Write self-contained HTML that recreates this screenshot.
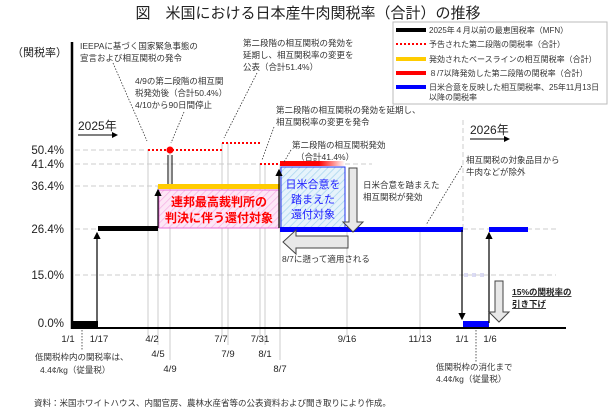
<!DOCTYPE html>
<html><head><meta charset="utf-8"><style>
body{margin:0;background:#fff;}
svg{display:block;font-family:"Liberation Sans","Noto Sans CJK JP",sans-serif;}
</style></head><body>
<svg width="615" height="418" viewBox="0 0 615 418" xmlns="http://www.w3.org/2000/svg">
<defs>
<pattern id="hp" width="5" height="5" patternUnits="userSpaceOnUse" patternTransform="rotate(45)"><rect width="5" height="5" fill="#fde6f6"/><line x1="0" y1="0" x2="0" y2="5" stroke="#f6b3e4" stroke-width="1.5"/></pattern>
<pattern id="hb" width="5" height="5" patternUnits="userSpaceOnUse" patternTransform="rotate(45)"><rect width="5" height="5" fill="#e6f3fb"/><line x1="0" y1="0" x2="0" y2="5" stroke="#a9d5ef" stroke-width="1.5"/></pattern>
<linearGradient id="rg" x1="0" x2="1"><stop offset="0.6" stop-color="#f00"/><stop offset="1" stop-color="#f00" stop-opacity="0"/></linearGradient>
<marker id="ah" markerWidth="6" markerHeight="6" refX="5" refY="3" orient="auto"><path d="M0,0L6,3L0,6z" fill="#000"/></marker>
</defs>
<text x="308" y="18" font-size="15" text-anchor="middle" fill="#222">図　米国における日本産牛肉関税率（合計）の推移</text>
<g stroke="#ccc" stroke-dasharray="5,3" stroke-width="1">
<line x1="75" y1="150" x2="148" y2="150"/><line x1="75" y1="164" x2="260" y2="164"/>
<line x1="345" y1="164" x2="372" y2="164"/>
<line x1="75" y1="186" x2="158" y2="186"/><line x1="75" y1="229" x2="98" y2="229"/>
<line x1="463" y1="229" x2="556" y2="229"/><line x1="75" y1="275" x2="556" y2="275"/>
<line x1="463" y1="120" x2="463" y2="229"/>
</g>
<g stroke="#ccc" stroke-width="1">
<line x1="148" y1="150" x2="148" y2="336"/><line x1="158" y1="186" x2="158" y2="345"/>
<line x1="170" y1="150" x2="170" y2="360"/><line x1="222" y1="143" x2="222" y2="336"/>
<line x1="228" y1="143" x2="228" y2="345"/><line x1="260" y1="164" x2="260" y2="336"/>
<line x1="265" y1="164" x2="265" y2="345"/><line x1="280" y1="164" x2="280" y2="360"/>
<line x1="347" y1="229" x2="347" y2="336"/><line x1="420" y1="229" x2="420" y2="336"/>
</g>
<line x1="72" y1="42" x2="72" y2="329" stroke="#000" stroke-width="2.5"/>
<line x1="72" y1="328" x2="566" y2="328" stroke="#000" stroke-width="2"/>
<g font-size="11.5" fill="#222" text-anchor="end">
<text x="64" y="154">50.4%</text><text x="64" y="168">41.4%</text><text x="64" y="190">36.4%</text>
<text x="64" y="233">26.4%</text><text x="64" y="279">15.0%</text><text x="64" y="327">0.0%</text>
</g>
<text x="12" y="56" font-size="11" fill="#222">（関税率）</text>
<rect x="159" y="190" width="120" height="38" fill="url(#hp)" stroke="#e870d8" stroke-width="1"/>
<text x="219" y="206" font-size="12" font-weight="bold" fill="#f00" text-anchor="middle">連邦最高裁判所の</text>
<text x="219" y="222" font-size="12" font-weight="bold" fill="#f00" text-anchor="middle">判決に伴う還付対象</text>
<rect x="281" y="167" width="64" height="62" fill="url(#hb)" stroke="#2233ee" stroke-width="1"/>
<text x="313" y="188" font-size="11" fill="#22f" text-anchor="middle">日米合意を</text>
<text x="313" y="203" font-size="11" fill="#22f" text-anchor="middle">踏まえた</text>
<text x="313" y="218" font-size="11" fill="#22f" text-anchor="middle">還付対象</text>
<rect x="72" y="321" width="26" height="6" fill="#000"/>
<line x1="97" y1="321" x2="97" y2="233" stroke="#000" stroke-width="1.2" marker-end="url(#ah)"/>
<rect x="98" y="226" width="60" height="5" fill="#000"/>
<line x1="158" y1="228" x2="158" y2="190" stroke="#000" stroke-width="1.2" marker-end="url(#ah)"/>
<rect x="158" y="184" width="122" height="5" fill="#fc0"/>
<g stroke="#f00" stroke-width="2" stroke-dasharray="2,2">
<line x1="148" y1="150" x2="222" y2="150"/><line x1="222" y1="143" x2="260" y2="143"/><line x1="260" y1="164" x2="280" y2="164"/>
</g>
<circle cx="170" cy="150" r="3.5" fill="#f00"/>
<line x1="168" y1="155" x2="168" y2="184" stroke="#000" stroke-width="1"/>
<line x1="172" y1="155" x2="172" y2="184" stroke="#000" stroke-width="1"/>
<line x1="279" y1="228" x2="279" y2="170" stroke="#000" stroke-width="1.2" marker-end="url(#ah)"/>
<rect x="280" y="161" width="65" height="5" fill="url(#rg)"/>
<rect x="280" y="227" width="183" height="5" fill="#00f"/>
<line x1="462" y1="230" x2="462" y2="319" stroke="#000" stroke-width="1.2" marker-end="url(#ah)"/>
<rect x="463" y="321" width="26" height="6" fill="#00f"/>
<line x1="489" y1="323" x2="489" y2="233" stroke="#000" stroke-width="1.2" marker-end="url(#ah)"/>
<rect x="489" y="227" width="39" height="5" fill="#00f"/>
<g fill="#cce" opacity="0.7"><rect x="464" y="273" width="4" height="4"/><rect x="472" y="273" width="4" height="4"/><rect x="480" y="273" width="4" height="4"/></g>
<path d="M349,168 H357 V222 H363 L353,232 L343,222 H349 Z" fill="#e8e8e8" stroke="#444" stroke-width="1"/>
<path d="M348,236 V248 H296 V254 L283,242 L296,230 V236 Z" fill="#e8e8e8" stroke="#444" stroke-width="1"/>
<path d="M495,281 H503 V312 H509 L499,322 L489,312 H495 Z" fill="#e8e8e8" stroke="#444" stroke-width="1"/>
<g font-size="8.5" fill="#333">
<text x="80" y="49">IEEPAに基づく国家緊急事態の</text>
<text x="80" y="61">宣言および相互関税の発令</text>
<text x="135" y="84">4/9の第二段階の相互関</text>
<text x="135" y="96">税発効後（合計50.4%）</text>
<text x="135" y="108">4/10から90日間停止</text>
<text x="243" y="46">第二段階の相互関税の発効を</text>
<text x="243" y="58">延期し、相互関税率の変更を</text>
<text x="243" y="70">公表（合計51.4%）</text>
<text x="276" y="113">第二段階の相互関税の発効を延期し、</text>
<text x="276" y="125">相互関税率の変更を発令</text>
<text x="292" y="148">第二段階の相互関税発効</text>
<text x="296" y="160">（合計41.4%）</text>
<text x="363" y="188">日米合意を踏まえた</text>
<text x="363" y="200">相互関税が発効</text>
<text x="282" y="262">8/7に遡って適用される</text>
<text x="466" y="163">相互関税の対象品目から</text>
<text x="466" y="175">牛肉などが除外</text>
<text x="35" y="360">低関税枠内の関税率は、</text>
<text x="40" y="373">4.4¢/kg（従量税）</text>
<text x="436" y="370">低関税枠の消化まで</text>
<text x="436" y="382">4.4¢/kg（従量税）</text>
</g>
<g stroke="#333" stroke-width="0.8" stroke-dasharray="1.5,1.5" fill="none">
<line x1="113" y1="63" x2="147" y2="141"/><line x1="184" y1="112" x2="171" y2="143"/>
<line x1="257" y1="73" x2="224" y2="138"/><line x1="274" y1="127" x2="262" y2="160"/>
<line x1="291" y1="150" x2="284" y2="162"/><line x1="462" y1="166" x2="426" y2="225"/>
<line x1="82" y1="330" x2="82" y2="350"/><line x1="476" y1="330" x2="476" y2="362"/>
</g>
<g font-size="12" fill="#222"><text x="78" y="130">2025年</text><text x="470" y="134">2026年</text></g>
<line x1="78" y1="135" x2="117" y2="135" stroke="#000" stroke-width="1" marker-end="url(#ah)"/>
<line x1="470" y1="139" x2="509" y2="139" stroke="#000" stroke-width="1" marker-end="url(#ah)"/>
<text x="512" y="295" font-size="8.5" font-weight="bold" fill="#222" text-decoration="underline">15%の関税率の</text>
<text x="512" y="307" font-size="8.5" font-weight="bold" fill="#222" text-decoration="underline">引き下げ</text>
<g font-size="9.5" fill="#222" text-anchor="middle">
<text x="68" y="342">1/1</text><text x="99" y="342">1/17</text><text x="152" y="342">4/2</text>
<text x="158" y="357">4/5</text><text x="170" y="372">4/9</text><text x="221" y="342">7/7</text>
<text x="228" y="357">7/9</text><text x="260" y="342">7/31</text><text x="265" y="357">8/1</text>
<text x="280" y="372">8/7</text><text x="347" y="342">9/16</text><text x="420" y="342">11/13</text>
<text x="462" y="342">1/1</text><text x="490" y="342">1/6</text>
</g>
<text x="34" y="406" font-size="8.5" fill="#333">資料：米国ホワイトハウス、内閣官房、農林水産省等の公表資料および聞き取りにより作成。</text>
<rect x="393" y="22" width="214" height="82" fill="#fff" stroke="#bbb" stroke-width="1"/>
<g font-size="8" fill="#333">
<rect x="396" y="28" width="30" height="4" fill="#000"/><text x="429" y="33">2025年４月以前の最恵国税率（MFN）</text>
<line x1="396" y1="44" x2="426" y2="44" stroke="#f00" stroke-width="2" stroke-dasharray="2,2"/><text x="429" y="47">予告された第二段階の関税率（合計）</text>
<rect x="396" y="57" width="30" height="4" fill="#fc0"/><text x="429" y="62">発効されたベースラインの相互関税率（合計）</text>
<rect x="396" y="71" width="30" height="4" fill="#f00"/><text x="429" y="76">８/7以降発効した第二段階の関税率（合計）</text>
<rect x="396" y="85" width="30" height="4" fill="#00f"/><text x="429" y="90">日米合意を反映した相互関税率、25年11月13日</text><text x="429" y="100">以降の関税率</text>
</g>
</svg>
</body></html>
